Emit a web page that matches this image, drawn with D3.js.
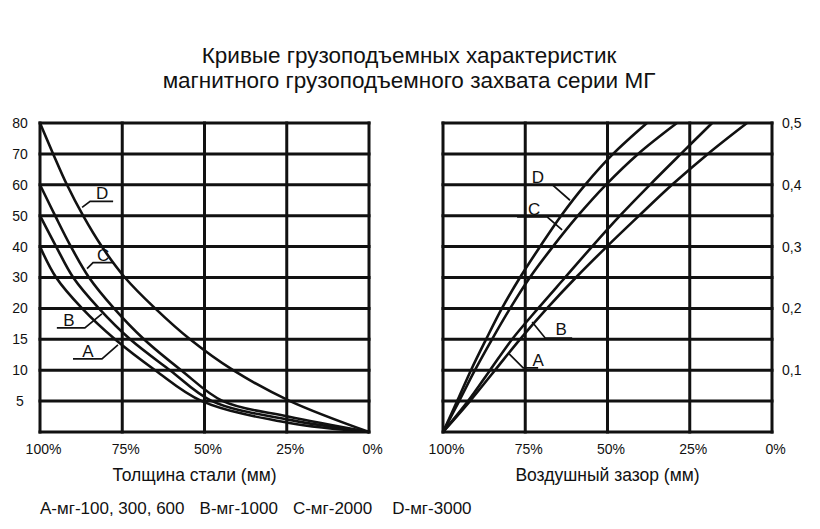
<!DOCTYPE html>
<html><head><meta charset="utf-8">
<script src="https://cdn.jsdelivr.net/npm/d3@7"></script>
<style>
body{margin:0;background:#fff}
svg{display:block}
text{font-family:"Liberation Sans",Arial,sans-serif;fill:#111}
</style>
</head><body><svg id="c" width="820" height="529"></svg>
<script>
// ---------- data ----------
const titleLines = ["Кривые грузоподъемных характеристик", "магнитного грузоподъемного захвата серии МГ"];
const seriesNames = ["A", "B", "C", "D"];
const legendItems = ["A-мг-100, 300, 600", "B-мг-1000", "C-мг-2000", "D-мг-3000"];
const xTicks = [100, 75, 50, 25, 0];
const leftYTicks = [0, 5, 10, 15, 20, 30, 40, 50, 60, 70, 80];
const leftYLabels = [5, 10, 15, 20, 30, 40, 50, 60, 70, 80];
const rightYTicks = [0, 0.05, 0.1, 0.15, 0.2, 0.25, 0.3, 0.35, 0.4, 0.45, 0.5];
const rightYLabels = [0.1, 0.2, 0.3, 0.4, 0.5];
const leftXTitle = "Толщина стали (мм)";
const rightXTitle = "Воздушный зазор (мм)";

// Left chart: lifting capacity vs steel thickness  [percent, value]
const thickA = [[100,40],[95.1,30],[87.2,20],[77.2,15],[65.0,10],[50.8,5],[24.6,1.5],[0,0]];
const thickB = [[100,50],[95.1,40],[89.9,30],[82.1,20],[72.6,15],[60.5,10],[47.7,5],[24.6,2],[0,0]];
const thickC = [[100,60],[95.4,50],[90.6,40],[85.1,30],[77.5,20],[68.4,15],[57.1,10],[44.4,5],[24.6,2.5],[0,0]];
const thickD = [[100,80],[96.0,70],[91.8,60],[86.9,50],[81.2,40],[74.2,30],[65.0,20],[54.4,15],[41.3,10],[24.0,5],[0,0]];

// Right chart: vs air gap  [percent, value]
const gapA = [[100,0],[91.8,0.05],[84.2,0.1],[76.6,0.15],[68.4,0.2],[59.6,0.25],[50.2,0.3],[40.4,0.35],[30.4,0.4],[19.5,0.45],[7.6,0.5]];
const gapB = [[100,0],[92.4,0.05],[85.7,0.1],[79.0,0.15],[71.1,0.2],[62.9,0.25],[54.7,0.3],[46.2,0.35],[37.1,0.4],[27.7,0.45],[18.2,0.5]];
const gapC = [[100,0],[95.1,0.05],[90.3,0.1],[85.1,0.15],[79.6,0.2],[73.6,0.25],[66.6,0.3],[59.0,0.35],[50.5,0.4],[40.7,0.45],[28.9,0.5]];
const gapD = [[100,0],[95.7,0.05],[91.5,0.1],[86.9,0.15],[82.1,0.2],[76.6,0.25],[70.5,0.3],[64.1,0.35],[56.8,0.4],[48.3,0.45],[38.0,0.5]];

const thickSeries = [thickA, thickB, thickC, thickD];
const gapSeries = [gapA, gapB, gapC, gapD];

// ---------- layout ----------
const svg = d3.select("#c");
const yTop = 123, yBot = 432;
const L = {x0: 40, x1: 369}, R = {x0: 443, x1: 772};
const ink = "#111";

const xL = d3.scaleLinear().domain([100, 0]).range([L.x0, L.x1]);
const xR = d3.scaleLinear().domain([100, 0]).range([R.x0, R.x1]);
const stepL = (yBot - yTop) / (leftYTicks.length - 1);
const yL = d3.scaleLinear().domain(leftYTicks).range(leftYTicks.map((d, i) => yBot - i * stepL));
const yR = d3.scaleLinear().domain([0, 0.5]).range([yBot, yTop]);

// Title
svg.append("g").selectAll("text").data(titleLines).join("text")
  .attr("x", 409).attr("y", (d, i) => 63 + i * 25)
  .attr("text-anchor", "middle").style("font-size", "22.5px").text(d => d);

function grid(g, x, y, yTicks) {
  g.append("g").selectAll("line").data(yTicks).join("line")
    .attr("x1", x.range()[0]).attr("x2", x.range()[1])
    .attr("y1", d => y(d)).attr("y2", d => y(d))
    .attr("stroke", ink).attr("stroke-width", 3).attr("stroke-linecap", "square");
  g.append("g").selectAll("line").data(xTicks).join("line")
    .attr("x1", d => x(d)).attr("x2", d => x(d))
    .attr("y1", yTop).attr("y2", yBot)
    .attr("stroke", ink).attr("stroke-width", 3).attr("stroke-linecap", "square");
}

function curves(g, x, y, series) {
  const line = d3.line().x(d => x(d[0])).y(d => y(d[1])).curve(d3.curveCatmullRom.alpha(0.5));
  g.append("g").selectAll("path").data(series).join("path")
    .attr("d", line).attr("fill", "none").attr("stroke", ink).attr("stroke-width", 2.6);
}

function bottomAxis(g, x, title) {
  const ax = g.append("g").attr("transform", `translate(0,${yBot})`)
    .call(d3.axisBottom(x).tickValues(xTicks).tickSize(0).tickPadding(12).tickFormat(d => d + "%"));
  ax.select(".domain").remove();
  ax.selectAll("text").attr("dx", 3).style("font-size", "14px").style("font-family", null).attr("fill", ink);
  g.append("text").attr("x", (x.range()[0] + x.range()[1]) / 2 + (title === leftXTitle ? -10 : 0))
    .attr("y", 481).attr("text-anchor", "middle").style("font-size", "17.5px").text(title);
}

// Left panel
const gl = svg.append("g");
grid(gl, xL, yL, leftYTicks);
curves(gl, xL, yL, thickSeries);
const axL = gl.append("g").attr("transform", `translate(${L.x0},0)`)
  .call(d3.axisLeft(yL).tickValues(leftYLabels).tickSize(0).tickPadding(20).tickFormat(d3.format("d")));
axL.select(".domain").remove();
axL.selectAll("text").attr("text-anchor", "middle").attr("x", -20).style("font-size", "14px").style("font-family", null).attr("fill", ink);
bottomAxis(gl, xL, leftXTitle);

// Right panel
const gr = svg.append("g");
grid(gr, xR, yR, rightYTicks);
curves(gr, xR, yR, gapSeries);
const axR = gr.append("g").attr("transform", `translate(${R.x1},0)`)
  .call(d3.axisRight(yR).tickValues(rightYLabels).tickSize(0).tickPadding(10).tickFormat(d => d3.format(".1f")(d).replace(".", ",")));
axR.select(".domain").remove();
axR.selectAll("text").style("font-size", "14px").style("font-family", null).attr("fill", ink);
bottomAxis(gr, xR, rightXTitle);

// Annotations: tip point in data space, elbow / underline / text offsets in px
function annotate(g, x, y, name, tip, elbow, uEnd, txt) {
  const px = x(tip[0]), py = y(tip[1]);
  const a = g.append("g");
  a.append("polyline")
    .attr("points", [[px, py], [px + elbow[0], py + elbow[1]], [px + uEnd[0], py + elbow[1]]].map(p => p.join(",")).join(" "))
    .attr("fill", "none").attr("stroke", ink).attr("stroke-width", 1.7);
  a.append("text").attr("x", px + txt[0]).attr("y", py + txt[1])
    .attr("text-anchor", "middle").style("font-size", "17px").text(name);
}
annotate(gl, xL, yL, seriesNames[3], [87.2, 52.7], [8, -6], [31], [20, -8]);
annotate(gl, xL, yL, seriesNames[2], [85.7, 32.9], [6, -6], [26], [16, -8]);
annotate(gl, xL, yL, seriesNames[1], [81.2, 19.1], [-17, 14], [-45], [-33, 12]);
annotate(gl, xL, yL, seriesNames[0], [76.3, 14.1], [-16, 14], [-45], [-30, 12]);

annotate(gr, xR, yR, seriesNames[3], [61.4, 0.375], [-17, -15], [-44], [-32, -17]);
annotate(gr, xR, yR, seriesNames[2], [63.8, 0.327], [-15, -13], [-45], [-28, -15]);
annotate(gr, xR, yR, seriesNames[1], [72.9, 0.178], [13, 16], [40], [29, 13]);
annotate(gr, xR, yR, seriesNames[0], [80.2, 0.128], [15, 15], [30], [30, 13]);

// Legend
let lx = 40;
const lg = svg.append("g");
legendItems.forEach((t, i) => {
  const el = lg.append("text").attr("x", lx).attr("y", 514).style("font-size", "17px").text(t);
  lx += el.node().getComputedTextLength() + (i === 2 ? 20 : 15);
});
</script>
</body></html>
